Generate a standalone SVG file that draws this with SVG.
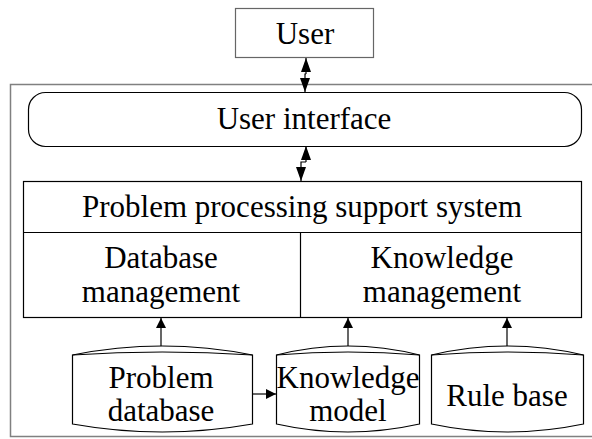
<svg xmlns="http://www.w3.org/2000/svg" width="592" height="439" viewBox="0 0 592 439">
<defs>
<style>
text{font-family:"Liberation Serif","Times New Roman",serif;font-size:31px;fill:#000;text-anchor:middle}
.box{fill:#fff;stroke:#000;stroke-width:1.2}
.ln{fill:none;stroke:#000;stroke-width:1.2}
.cyl{fill:#fff;stroke:#000;stroke-width:1.2}
.frame{fill:none;stroke:#808080;stroke-width:1.5}
</style>
<marker id="ah" viewBox="0 0 10 10" refX="10" refY="5" markerWidth="10" markerHeight="10" markerUnits="userSpaceOnUse" orient="auto">
<path d="M0,0 L10,5 L0,10 Z" fill="#000"/>
</marker>
<marker id="ahb" viewBox="0 0 14 10" refX="14" refY="5" markerWidth="14" markerHeight="10" markerUnits="userSpaceOnUse" orient="auto">
<path d="M0,0 L14,5 L0,10 Z" fill="#000"/>
</marker>
</defs>
<path class="frame" d="M593,84.5 L10.5,84.5 L10.5,436.5 L593,436.5"/>
<g id="user">
<rect x="235.5" y="8.5" width="138" height="49" fill="#fff" stroke="#666" stroke-width="1.2"/>
<text x="305" y="44">User</text>
</g>
<g id="user-interface">
<rect class="box" x="28.5" y="92.5" width="553" height="54" rx="17"/>
<text x="304" y="129">User interface</text>
</g>
<g id="ppss">
<rect class="box" x="23.5" y="181.5" width="558" height="136"/>
<line class="ln" x1="23.5" y1="232.5" x2="581.5" y2="232.5"/>
<line class="ln" x1="300.5" y1="232.5" x2="300.5" y2="317.5"/>
<text x="302" y="217">Problem processing support system</text>
</g>
<g id="database-management">
<text x="161" y="268">Database</text>
<text x="161" y="302">management</text>
</g>
<g id="knowledge-management">
<text x="442" y="268">Knowledge</text>
<text x="442" y="302">management</text>
</g>
<g id="problem-database">
<path class="cyl" d="M72.5,355 Q162,337 252.5,355 L252.5,424 Q162,440 72.5,424 Z"/>
<path class="ln" d="M72.5,355 Q162,349 252.5,355"/>
<text x="161" y="388">Problem</text>
<text x="161" y="421">database</text>
</g>
<g id="knowledge-model">
<path class="cyl" d="M276.5,355 Q348,337 419.5,355 L419.5,424 Q348,440 276.5,424 Z"/>
<path class="ln" d="M276.5,355 Q348,349 419.5,355"/>
<text x="348" y="388">Knowledge</text>
<text x="348" y="421">model</text>
</g>
<g id="rule-base">
<path class="cyl" d="M431.5,355 Q507,337 583.5,355 L583.5,424 Q507,440 431.5,424 Z"/>
<path class="ln" d="M431.5,355 Q507,349 583.5,355"/>
<text x="507" y="406">Rule base</text>
</g>
<g id="connectors">
<line class="ln" x1="306" y1="74" x2="306" y2="58" marker-end="url(#ahb)"/>
<path class="ln" d="M306,74 L305,74 L305,75"/>
<line class="ln" x1="305" y1="75" x2="305" y2="92" marker-end="url(#ahb)"/>
<line class="ln" x1="306" y1="162" x2="306" y2="146" marker-end="url(#ahb)"/>
<path class="ln" d="M306,162 L301,162 L301,164"/>
<line class="ln" x1="301" y1="164" x2="301" y2="181" marker-end="url(#ahb)"/>
<line class="ln" x1="161" y1="346" x2="161" y2="318" marker-end="url(#ah)"/>
<line class="ln" x1="348" y1="346" x2="348" y2="318" marker-end="url(#ah)"/>
<line class="ln" x1="507" y1="346" x2="507" y2="318" marker-end="url(#ah)"/>
<line class="ln" x1="252.5" y1="394" x2="276" y2="394" marker-end="url(#ah)"/>
</g>
</svg>
